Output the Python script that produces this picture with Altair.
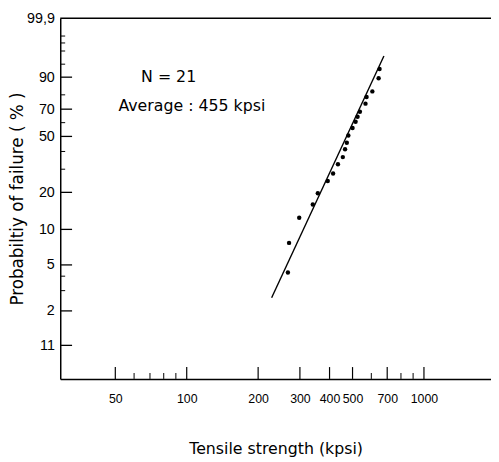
import math
import pandas as pd
import altair as alt

# ---- data ----
strength = [267, 270, 298, 340, 357, 393, 414, 434, 455, 465, 473, 480,
            500, 515, 525, 537, 567, 573, 606, 644, 650]
prob = [4.3, 7.7, 12.5, 16.0, 19.7, 24.5, 27.9, 32.6, 36.6, 41.4, 45.6, 50.7,
        56.0, 60.7, 64.4, 68.1, 74.0, 78.6, 82.2, 89.5, 93.4]
fit_strength = [228, 678]
fit_prob = [2.6, 97.1]

x_major = [50, 100, 200, 300, 400, 500, 700, 1000]
x_minor = [60, 70, 80, 90, 600, 800, 900]
y_major = [1, 2, 5, 10, 20, 50, 70, 90]
y_major_labels = ["11", "2", "5", "10", "20", "50", "70", "90"]
y_minor = [3, 4, 30, 40, 60, 80, 95, 98, 99, 99.5]
top_label = "99,9"


def weib(p):
    return math.log(-math.log(1 - p / 100.0))


W, H = 437, 366
Y_DOM = [-5.28, 2.03]
X_DOM = [29.3, 1917]

pts = pd.DataFrame({"s": strength, "t": [weib(p) for p in prob]})
fit = pd.DataFrame({"s": fit_strength, "t": [weib(p) for p in fit_prob]})

y_vals = [weib(p) for p in y_major] + [Y_DOM[1]]
y_labs = y_major_labels + [top_label]
label_expr = ""
for v, lab in zip(y_vals, y_labs):
    label_expr += f"abs(datum.value - ({v:.5f})) < 0.001 ? '{lab}' : "
label_expr += "''"

TICKFONT = "Liberation Sans"
TITLEFONT = "DejaVu Sans"

xs = alt.Scale(type="log", domain=X_DOM, nice=False)
ys = alt.Scale(domain=Y_DOM, nice=False, zero=False)

x_axis = alt.Axis(values=x_major, format="d", ticks=False, grid=False,
                  domainColor="black", domainWidth=1.5,
                  labelFont=TICKFONT, labelFontSize=12.5, labelColor="black",
                  labelPadding=14, labelOverlap=False,
                  title="Tensile strength (kpsi)", titleFont=TITLEFONT,
                  titleFontSize=16, titleFontWeight="normal", titleColor="black",
                  titleY=71, titleBaseline="middle")
y_axis = alt.Axis(values=y_vals, labelExpr=label_expr, ticks=False, grid=False,
                  domainColor="black", domainWidth=1.5,
                  labelFont=TICKFONT, labelFontSize=14.5, labelColor="black",
                  labelPadding=6, labelOverlap=False,
                  title="Probabiltiy of failure ( % )", titleFont=TITLEFONT,
                  titleFontSize=17, titleFontWeight="normal", titleColor="black",
                  titleX=-43, titleBaseline="middle")

points = alt.Chart(pts).mark_circle(size=20, color="black", opacity=1).encode(
    x=alt.X("s:Q", scale=xs, axis=x_axis),
    y=alt.Y("t:Q", scale=ys, axis=y_axis),
)
line = alt.Chart(fit).mark_line(color="black", strokeWidth=1.4).encode(
    x=alt.X("s:Q", scale=xs),
    y=alt.Y("t:Q", scale=ys),
)

xmaj = alt.Chart(pd.DataFrame({"s": x_major})).mark_rule(color="black", strokeWidth=1.2).encode(
    x=alt.X("s:Q", scale=xs), y=alt.value(H), y2=alt.value(H - 12))
xmin = alt.Chart(pd.DataFrame({"s": x_minor})).mark_rule(color="black", strokeWidth=1).encode(
    x=alt.X("s:Q", scale=xs), y=alt.value(H), y2=alt.value(H - 6))
ymaj = alt.Chart(pd.DataFrame({"t": [weib(p) for p in y_major]})).mark_rule(color="black", strokeWidth=1.3).encode(
    y=alt.Y("t:Q", scale=ys), x=alt.value(0), x2=alt.value(12))
ymin = alt.Chart(pd.DataFrame({"t": [weib(p) for p in y_minor]})).mark_rule(color="black", strokeWidth=1).encode(
    y=alt.Y("t:Q", scale=ys), x=alt.value(0), x2=alt.value(5))
top = alt.Chart(pd.DataFrame({"a": [0]})).mark_rule(color="black", strokeWidth=1.5).encode(
    x=alt.value(0), x2=alt.value(W + 2), y=alt.value(0))

ann = alt.Chart(pd.DataFrame({
    "txt": ["N = 21", "Average : 455 kpsi"],
    "px": [82, 59],
    "py": [60, 89],
})).mark_text(font=TITLEFONT, fontSize=16, align="left", baseline="middle", color="black").encode(
    text="txt:N", x=alt.X("px:Q", scale=None), y=alt.Y("py:Q", scale=None))

chart = alt.layer(line, points, xmaj, xmin, ymaj, ymin, top, ann).properties(
    width=W, height=H,
    autosize=alt.AutoSizeParams(type="none"),
    padding={"left": 53, "top": 7, "right": 0, "bottom": 81},
    background="white",
).configure_view(stroke=None)

chart.save("out.html", embed_options={"renderer": "svg", "actions": False})
